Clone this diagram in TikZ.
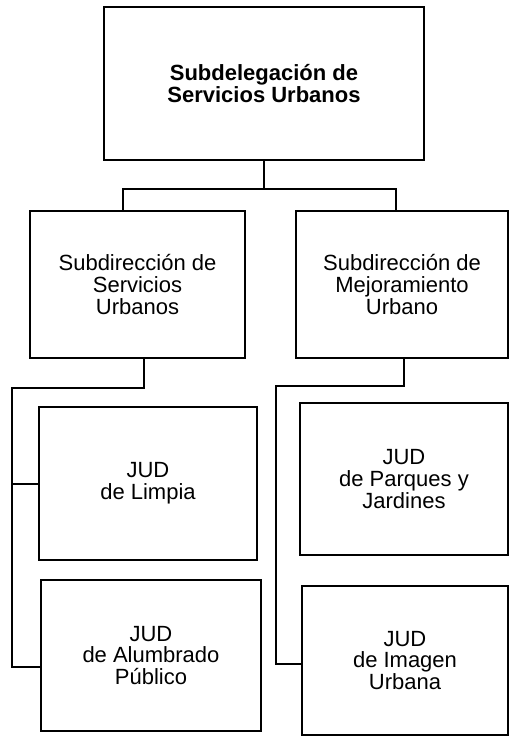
\documentclass[tikz,border=0pt]{standalone}
\usepackage{fontspec}
\setmainfont{Liberation Sans}
\usepackage{tikz}
\usetikzlibrary{positioning, calc}

\begin{document}
\begin{tikzpicture}[
    x=0.5pt, y=-0.5pt,
    unit/.style={
      rectangle, draw=black, line width=1pt, inner sep=2pt,
      align=center, font=\fontsize{11}{10.8}\selectfont
    },
    head/.style={unit, font=\fontsize{11}{10.6}\selectfont\bfseries},
    link/.style={line width=1pt, black},
  ]
    \useasboundingbox (0,0) rectangle (510,736);

    % Top
    \node[head, minimum width=160pt, minimum height=76.5pt] (deleg) at (264,83.5)
      {Subdelegación de\\Servicios Urbanos};

    % Subdirecciones
    \node[unit, minimum width=107.5pt, minimum height=73.5pt] (subSU) at (137.5,284.5)
      {Subdirección de\\Servicios\\Urbanos};
    \node[unit, minimum width=106pt, minimum height=73.5pt] (subMU) at (402,284.5)
      {Subdirección de\\Mejoramiento\\Urbano};

    % JUD
    \node[unit, minimum width=109pt, minimum height=76.5pt] (limpia) at (148,483.5)
      {JUD\\de Limpia};
    \node[unit, minimum width=110pt, minimum height=75.5pt] (alumbrado) at (151,655.5)
      {JUD\\de Alumbrado\\Público};
    \node[unit, minimum width=104pt, minimum height=76pt] (parques) at (404,479)
      {JUD\\de Parques y\\Jardines};
    \node[unit, minimum width=103pt, minimum height=74.5pt] (imagen) at (405,660.5)
      {JUD\\de Imagen\\Urbana};

    % Lines
    \coordinate (bus) at (264,189);
    \coordinate (spineSU) at (12,388);
    \coordinate (spineMU) at (276,386);

    \draw[link] (deleg.south) -- (bus);
    \draw[link] ([xshift=-7.25pt]subSU.north) |- (bus) -| ([xshift=-3pt]subMU.north);

    \draw[link] ([xshift=3.25pt]subSU.south) |- (spineSU) |- ([yshift=-5.5pt]alumbrado.west);
    \draw[link] (spineSU |- limpia.west) -- (limpia.west);

    \draw[link] ([xshift=1pt]subMU.south) |- (spineMU) |- ([yshift=-1.5pt]imagen.west);
  \end{tikzpicture}
\end{document}
